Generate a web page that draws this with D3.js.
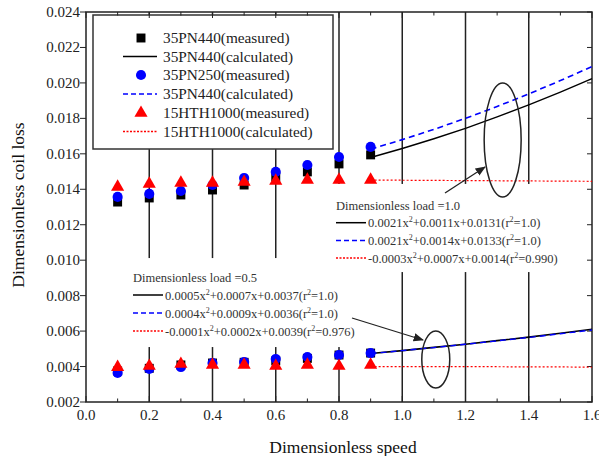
<!DOCTYPE html>
<html><head><meta charset="utf-8">
<script src="https://cdn.jsdelivr.net/npm/d3@7"></script>
<style>
body{margin:0;background:#fff;}
svg{display:block;}
</style></head>
<body>
<svg id="chart" width="599" height="456"></svg>
<script>
// ---- data ----
const speeds = [0.1,0.2,0.3,0.4,0.5,0.6,0.7,0.8,0.9];
// load = 1.0 measured
const pn440Load10 = [0.01328,0.01351,0.01368,0.01396,0.01424,0.01469,0.01498,0.01543,0.01594];
const pn250Load10 = [0.01357,0.01374,0.01390,0.01424,0.01464,0.01498,0.01537,0.01582,0.01639];
const hth1000Load10 = [0.01413,0.01430,0.01436,0.01436,0.01441,0.01447,0.01453,0.01453,0.01453];
// load = 0.5 measured
const pn440Load05 = [0.00375,0.00390,0.00409,0.00420,0.00424,0.00432,0.00446,0.00465,0.00476];
const pn250Load05 = [0.00364,0.00386,0.00397,0.00420,0.00426,0.00443,0.00454,0.00465,0.00476];
const hth1000Load05 = [0.00397,0.00403,0.00414,0.00409,0.00409,0.00403,0.00409,0.00403,0.00409];
// calculated curves
const calcSpeeds = [0.9,1.0,1.1,1.2,1.3,1.4,1.5,1.6];
const pn440CalcLoad10 = [0.01579,0.01630,0.01685,0.01744,0.01808,0.01876,0.01948,0.02024];
const pn250CalcLoad10 = [0.01626,0.01680,0.01738,0.01800,0.01867,0.01938,0.02013,0.02092];
const hthCalcLoad10 = [0.01452,0.01451,0.01450,0.01449,0.01448,0.01447,0.01446,0.01445];
const pn440CalcLoad05 = [0.00474,0.00490,0.00508,0.00526,0.00546,0.00566,0.00588,0.00610];
const pn250CalcLoad05 = [0.00473,0.00490,0.00507,0.00526,0.00545,0.00564,0.00585,0.00606];
const hthCalcLoad05 = [0.00400,0.00400,0.00400,0.00400,0.00399,0.00398,0.00398,0.00396];
// ticks
const xTicks = [0.0,0.2,0.4,0.6,0.8,1.0,1.2,1.4,1.6];
const xTickLabels = ["0.0","0.2","0.4","0.6","0.8","1.0","1.2","1.4","1.6"];
const yTicks = [0.002,0.004,0.006,0.008,0.010,0.012,0.014,0.016,0.018,0.020,0.022,0.024];
const yTickLabels = ["0.002","0.004","0.006","0.008","0.010","0.012","0.014","0.016","0.018","0.020","0.022","0.024"];
const gridX = [0.2,0.4,0.6,0.8,1.0,1.2,1.4];
const legendLabels = ["35PN440(measured)","35PN440(calculated)","35PN250(measured)","35PN440(calculated)","15HTH1000(measured)","15HTH1000(calculated)"];
const load10Title = "Dimensionless load =1.0";
const load10Eq = [["0.0021x","2","+0.0011x+0.0131(r","2","=1.0)"],["0.0021x","2","+0.0014x+0.0133(r","2","=1.0)"],["-0.0003x","2","+0.0007x+0.0014(r","2","=0.990)"]];
const load05Title = "Dimensionless load =0.5";
const load05Eq = [["0.0005x","2","+0.0007x+0.0037(r","2","=1.0)"],["0.0004x","2","+0.0009x+0.0036(r","2","=1.0)"],["-0.0001x","2","+0.0002x+0.0039(r","2","=0.976)"]];
// ellipses (data coords): cx, cy, rx, ry
const ellipses = [{cx:1.3175,cy:0.01678,rx:0.0585,ry:0.00322},{cx:1.106,cy:0.00440,rx:0.0442,ry:0.00161}];

// ---- pick an installed serif font ----
function pickFont(cands){
  const c = document.createElement("canvas").getContext("2d");
  const s = "Dimensionless 0.0123456789 mwWil";
  for(const base of ["monospace","sans-serif"]){
    c.font = "40px " + base; const w0 = c.measureText(s).width;
    for(const f of cands){
      c.font = `40px "${f}", ${base}`;
      if(Math.abs(c.measureText(s).width - w0) > 0.5) return `"${f}"`;
    }
  }
  return "serif";
}
const FONT = pickFont(["Liberation Serif","Times New Roman","Tinos","Nimbus Roman","DejaVu Serif","Noto Serif","FreeSerif"]) + ", serif";

// ---- layout ----
const svg = d3.select("#chart").style("font-family",FONT);
const L=86,R=592,T=12,B=402;
const x = d3.scaleLinear().domain([0,1.6]).range([L,R]);
const y = d3.scaleLinear().domain([0.002,0.024]).range([B,T]);
const BLUE="#0000ff", RED="#ff0000", BLK="#000";

// gridlines
svg.append("g").selectAll("line").data(gridX).join("line")
  .attr("x1",d=>x(d)).attr("x2",d=>x(d)).attr("y1",T).attr("y2",B)
  .attr("stroke","#222").attr("stroke-width",1.5);

// white boxes hiding gridlines behind text
const boxes = [
  {x0:0.775,x1:1.595,y0:0.00933,y1:0.01430},
  {x0:0.14,x1:0.83,y0:0.0051,y1:0.01012}
];
svg.append("g").selectAll("rect").data(boxes).join("rect")
  .attr("x",d=>x(d.x0)).attr("y",d=>y(d.y1)).attr("width",d=>x(d.x1)-x(d.x0)).attr("height",d=>y(d.y0)-y(d.y1))
  .attr("fill","#fff");

// legend box
const lg = svg.append("g");
lg.append("rect").attr("x",93).attr("y",15).attr("width",240).attr("height",134)
  .attr("fill","#fff").attr("stroke","#333").attr("stroke-width",1.5);

// axes frame & ticks
const ax = svg.append("g").attr("stroke","#222").attr("stroke-width",1.5);
const minorX = d3.range(0,17).map(i=>i/10);
ax.selectAll(".bt").data(minorX).join("line").attr("class","bt")
  .attr("x1",d=>x(d)).attr("x2",d=>x(d)).attr("y1",B).attr("y2",(d,i)=>B-(i%2===0?6:3.5)).attr("stroke-width",1);
ax.selectAll(".tt").data(minorX).join("line").attr("class","tt")
  .attr("x1",d=>x(d)).attr("x2",d=>x(d)).attr("y1",T).attr("y2",(d,i)=>T+(i%2===0?6:3.5)).attr("stroke-width",1);
ax.selectAll(".lt").data(yTicks).join("line").attr("class","lt")
  .attr("x1",L-6).attr("x2",L).attr("y1",d=>y(d)).attr("y2",d=>y(d)).attr("stroke-width",1);
ax.selectAll(".rt").data(yTicks).join("line").attr("class","rt")
  .attr("x1",R-5).attr("x2",R).attr("y1",d=>y(d)).attr("y2",d=>y(d)).attr("stroke-width",1);
ax.append("rect").attr("x",L).attr("y",T).attr("width",R-L).attr("height",B-T).attr("fill","none");

// tick labels
svg.append("g").selectAll("text").data(xTicks).join("text")
  .attr("x",d=>x(d)).attr("y",B+18).attr("text-anchor","middle").attr("font-size",15).attr("fill","#222")
  .text((d,i)=>xTickLabels[i]);
svg.append("g").selectAll("text").data(yTicks).join("text")
  .attr("x",L-6).attr("y",d=>y(d)+5).attr("text-anchor","end").attr("font-size",15).attr("fill","#222")
  .text((d,i)=>yTickLabels[i]);

// axis titles
svg.append("text").attr("x",(L+R)/2+4).attr("y",453).attr("text-anchor","middle").attr("font-size",17.5).attr("fill","#111").text("Dimensionless speed");
svg.append("text").attr("transform",`translate(24,${(T+B)/2-2}) rotate(-90)`).attr("text-anchor","middle").attr("font-size",17.5).attr("fill","#111").text("Dimensionless coil loss");

// calculated lines
const line = d3.line().x(d=>x(d[0])).y(d=>y(d[1]));
function drawLine(xs, ys, color, dash, w){
  svg.append("path").datum(xs.map((v,i)=>[v,ys[i]])).attr("d",line)
    .attr("fill","none").attr("stroke",color).attr("stroke-width",w).attr("stroke-dasharray",dash);
}
drawLine(calcSpeeds,hthCalcLoad10,RED,"2,2",1.2);
drawLine(calcSpeeds,hthCalcLoad05,RED,"2,2",1.2);
drawLine(calcSpeeds,pn440CalcLoad10,BLK,null,1.4);
drawLine(calcSpeeds,pn250CalcLoad10,BLUE,"6,4",1.6);
drawLine(calcSpeeds,pn440CalcLoad05,BLK,null,1.6);
drawLine(calcSpeeds,pn250CalcLoad05,BLUE,"6,4",1.4);

// markers
const sq = d3.symbol().type(d3.symbolSquare).size(80);
const ci = d3.symbol().type(d3.symbolCircle).size(80);
const tr = d3.symbol().type(d3.symbolTriangle).size(75);
function drawPts(ys, sym, color){
  svg.append("g").selectAll("path").data(ys).join("path")
    .attr("transform",(d,i)=>`translate(${x(speeds[i])},${y(d)})`).attr("d",sym).attr("fill",color);
}
drawPts(pn440Load10,sq,BLK); drawPts(pn440Load05,sq,BLK);
drawPts(pn250Load10,ci,BLUE); drawPts(pn250Load05,ci,BLUE);
drawPts(hth1000Load10,tr,RED); drawPts(hth1000Load05,tr,RED);

// legend entries
const rows = [38,56.5,75,94,113,131.5];
const kinds = [["sym",sq,BLK],["line",BLK,null],["sym",ci,BLUE],["line",BLUE,"5,3"],["sym",tr,RED],["line",RED,"2,1.5"]];
kinds.forEach((k,i)=>{
  if(k[0]==="sym") lg.append("path").attr("transform",`translate(141,${rows[i]})`).attr("d",k[1]).attr("fill",k[2]);
  else lg.append("line").attr("x1",123).attr("x2",157).attr("y1",rows[i]).attr("y2",rows[i]).attr("stroke",k[1]).attr("stroke-width",1.4).attr("stroke-dasharray",k[2]);
  lg.append("text").attr("x",163).attr("y",rows[i]+5).attr("font-size",15.3).attr("fill","#222").text(legendLabels[i]);
});

// annotation blocks
function eqBlock(x0,y0,dy,title,eqs){
  const g = svg.append("g").attr("font-size",12.5).attr("fill","#333");
  g.append("text").attr("x",x0).attr("y",y0+4.5).text(title);
  const st = [[BLK,null],[BLUE,"5,3"],[RED,"2,1.5"]];
  eqs.forEach((e,i)=>{
    const yy = y0+dy*(i+1);
    g.append("line").attr("x1",x0).attr("x2",x0+30).attr("y1",yy).attr("y2",yy).attr("stroke",st[i][0]).attr("stroke-width",1.5).attr("stroke-dasharray",st[i][1]);
    const t = g.append("text").attr("x",x0+32).attr("y",yy+4.5);
    t.append("tspan").text(e[0]);
    t.append("tspan").attr("dy",-5).attr("font-size",8).text(e[1]);
    t.append("tspan").attr("dy",5).text(e[2]);
    t.append("tspan").attr("dy",-5).attr("font-size",8).text(e[3]);
    t.append("tspan").attr("dy",5).text(e[4]);
  });
}
eqBlock(336,205,17.7,load10Title,load10Eq);
eqBlock(133,277,18,load05Title,load05Eq);

// ellipses
svg.append("g").selectAll("ellipse").data(ellipses).join("ellipse")
  .attr("cx",d=>x(d.cx)).attr("cy",d=>y(d.cy)).attr("rx",d=>x(d.rx)-x(0)).attr("ry",d=>y(0)-y(d.ry))
  .attr("fill","none").attr("stroke","#222").attr("stroke-width",1.5);

// arrows
svg.append("defs").append("marker").attr("id","ah").attr("viewBox","0 0 10 10").attr("refX",9).attr("refY",5)
  .attr("markerWidth",8).attr("markerHeight",8).attr("orient","auto-start-reverse")
  .append("path").attr("d","M0,1 L10,5 L0,9 z").attr("fill","#222");
const arrows=[[445,193,485,167],[352,318,423,340]];
svg.append("g").selectAll("line").data(arrows).join("line")
  .attr("x1",d=>d[0]).attr("y1",d=>d[1]).attr("x2",d=>d[2]).attr("y2",d=>d[3])
  .attr("stroke","#222").attr("stroke-width",1.3).attr("marker-end","url(#ah)");
</script>
</body></html>
